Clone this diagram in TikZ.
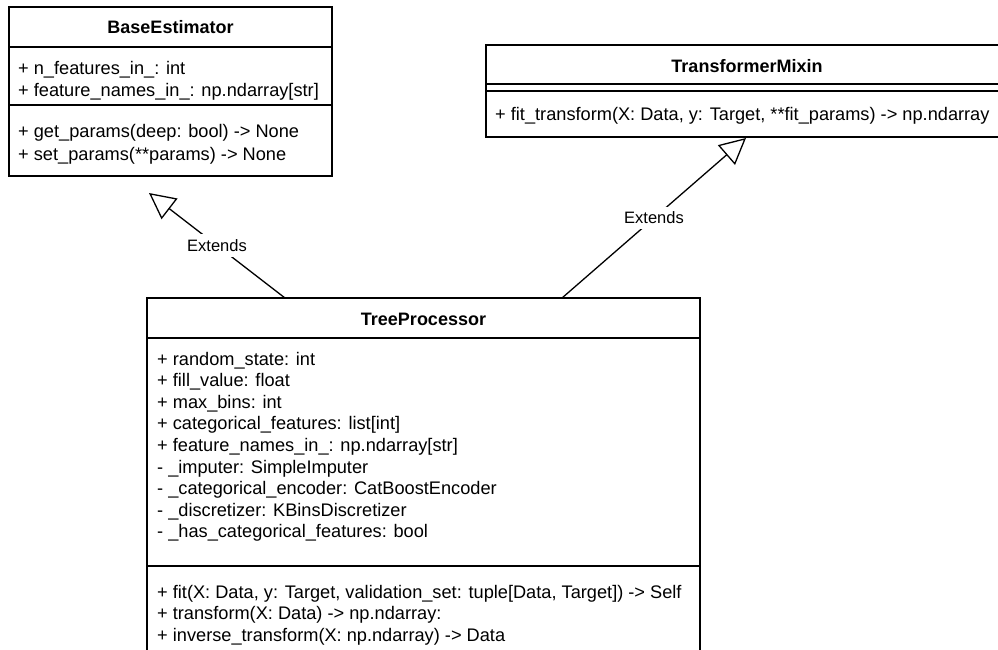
\documentclass[tikz,border=0pt]{standalone}
\usepackage{fontspec}
\setmainfont{Liberation Sans}
\usetikzlibrary{arrows.meta}
\begin{document}
\begin{tikzpicture}[x=1pt,y=-1pt,
  box/.style={draw=black, line width=1.3pt, fill=white, inner sep=0pt, rectangle},
  txt/.style={anchor=base west, inner sep=0pt, font=\fontsize{18.2}{21.6}\selectfont},
  ttl/.style={anchor=base, inner sep=0pt, font=\fontsize{18}{21.6}\selectfont\bfseries},
  lbl/.style={fill=white, inner xsep=1pt, inner ysep=5pt, font=\fontsize{16.5}{19.8}\selectfont},
  sep/.style={line width=1.3pt},
  extends/.style={line width=1.3pt, line join=miter, -{Triangle[open, length=26pt, width=26pt]}}]

\useasboundingbox (0,0) rectangle (998,649);
\clip (0,0) rectangle (998,649);

% BaseEstimator
\node[box, minimum width=323pt, minimum height=169pt] (base) at (170.5,91.5) {};
\draw[sep] (9,47) -- (332,47);
\draw[sep] (9,105) -- (332,105);
\node[ttl] (baseT) at (170.5,33.5) {BaseEstimator};
\node[txt] (baseA1) at (18,74.5) {+ n\_features\_in\_: int};
\node[txt] (baseA2) at (18,96.7) {+ feature\_names\_in\_: np.ndarray[str]};
\node[txt] (baseM1) at (18,137.7) {+ get\_params(deep: bool) -> None};
\node[txt] (baseM2) at (18,160) {+ set\_params(**params) -> None};

% TransformerMixin
\node[box, minimum width=523pt, minimum height=92pt] (tm) at (747.5,91) {};
\draw[sep] (486,84) -- (1009,84);
\draw[sep] (486,91) -- (1009,91);
\node[ttl] (tmT) at (747,72.3) {TransformerMixin};
\node[txt] (tmM1) at (495,120) {+ fit\_transform(X: Data, y: Target, **fit\_params) -> np.ndarray};

% TreeProcessor
\node[box, minimum width=553pt, minimum height=372pt] (tree) at (423.5,484) {};
\draw[sep] (147,338) -- (700,338);
\draw[sep] (147,566) -- (700,566);
\node[ttl] (treeT) at (423.5,325.7) {TreeProcessor};
\node[txt] (treeA1) at (157,365) {+ random\_state: int};
\node[txt] (treeA2) at (157,386.6) {+ fill\_value: float};
\node[txt] (treeA3) at (157,408.2) {+ max\_bins: int};
\node[txt] (treeA4) at (157,429.8) {+ categorical\_features: list[int]};
\node[txt] (treeA5) at (157,451.4) {+ feature\_names\_in\_: np.ndarray[str]};
\node[txt] (treeA6) at (157,473) {- \_imputer: SimpleImputer};
\node[txt] (treeA7) at (157,494.6) {- \_categorical\_encoder: CatBoostEncoder};
\node[txt] (treeA8) at (157,516.2) {- \_discretizer: KBinsDiscretizer};
\node[txt] (treeA9) at (157,537.8) {- \_has\_categorical\_features: bool};
\node[txt] (treeM1) at (157,598.3) {+ fit(X: Data, y: Target, validation\_set: tuple[Data, Target]) -> Self};
\node[txt] (treeM2) at (157,619.9) {+ transform(X: Data) -> np.ndarray:};
\node[txt] (treeM3) at (157,641.5) {+ inverse\_transform(X: np.ndarray) -> Data};

% connectors
\coordinate (tA) at (285,298);
\coordinate (bTip) at (149,193);
\coordinate (tB) at (562,298);
\coordinate (mTip) at (746,138);
\draw[extends] (tA) -- (bTip) node[lbl, pos=0.5] (l1) {Extends};
\draw[extends] (tB) -- (mTip) node[lbl, pos=0.5] (l2) {Extends};
\end{tikzpicture}
\end{document}
